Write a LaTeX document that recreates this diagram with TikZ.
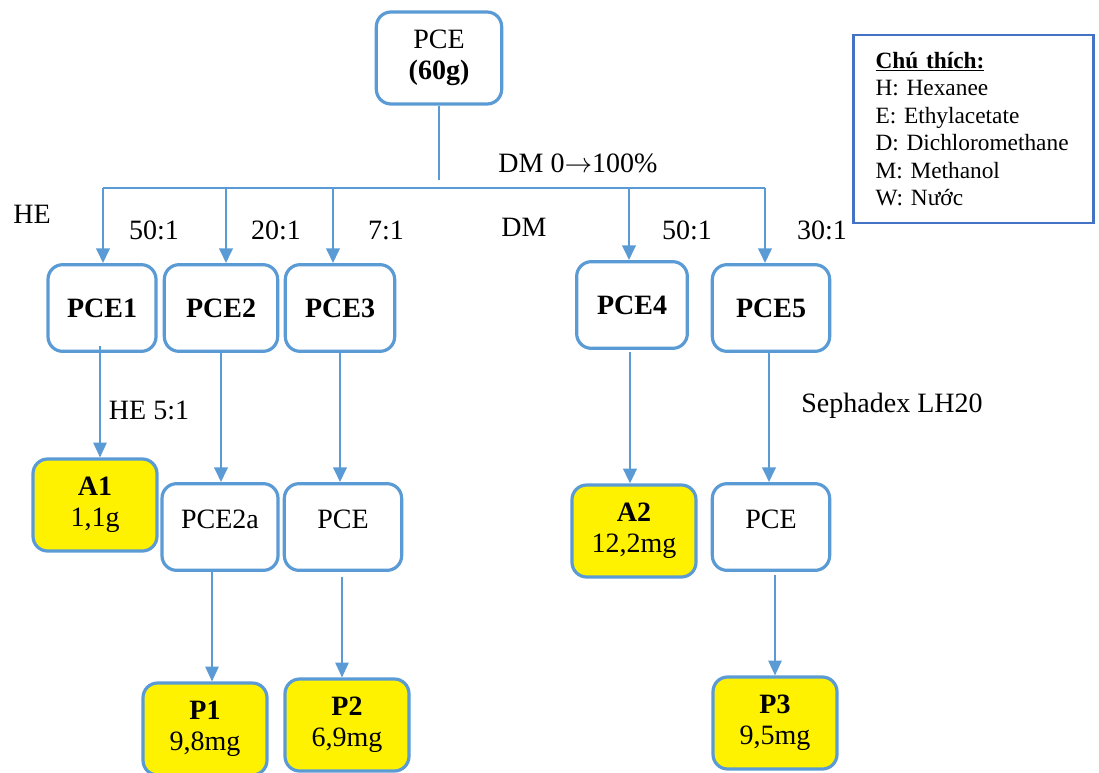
\documentclass[tikz,border=0pt]{standalone}
\usepackage{fontspec}
\setmainfont{Liberation Serif}
\usetikzlibrary{arrows.meta}
\definecolor{lineblue}{RGB}{91,155,213}
\definecolor{keyblue}{RGB}{68,114,196}
\frenchspacing

\begin{document}
\begin{tikzpicture}[x=0.75pt,y=-0.75pt,
  box/.style={draw=lineblue, line width=2.4pt, rounded corners=11pt, fill=white,
    align=center, inner sep=2pt, minimum width=85pt, minimum height=65pt,
    font=\fontsize{21}{23}\selectfont},
  res/.style={box, fill=yellow, minimum width=93pt, minimum height=69pt},
  lbl/.style={font=\fontsize{21}{23}\selectfont, inner sep=0pt},
  trunk/.style={draw=lineblue, line width=2.2pt},
  flow/.style={draw=lineblue, line width=2pt, -{Triangle[length=11pt,width=10pt]}},
  thinflow/.style={flow, line width=1pt}]

      \useasboundingbox (0,0) rectangle (1099,772);
      \clip (0,0) rectangle (1099,772);

      % Set up nodes
      \node[box, minimum width=94pt, minimum height=69pt] (pce) at (439,58) {PCE\\\textbf{(60g)}};

      \node[box, minimum width=81pt] (pce1) at (102,308) {\textbf{PCE1}};
      \node[box] (pce2) at (221,308) {\textbf{PCE2}};
      \node[box, minimum width=82pt] (pce3) at (340,308) {\textbf{PCE3}};
      \node[box, minimum width=83pt] (pce4) at (632,305) {\textbf{PCE4}};
      \node[box, minimum width=88pt] (pce5) at (771,308) {\textbf{PCE5}};

      \node[res] (a1) at (95,505) {\textbf{A1}\\1,1g};
      \node[box, minimum width=87pt, text depth=12pt] (pce2a) at (220,527) {PCE2a};
      \node[box, minimum width=88pt, text depth=12pt] (pce3b) at (343,527) {PCE};
      \node[res] (a2) at (634,531) {\textbf{A2}\\12,2mg};
      \node[box, minimum width=88pt, text depth=12pt] (pce5b) at (771,527) {PCE};

      \node[res] (p1) at (205,729) {\textbf{P1}\\9,8mg};
      \node[res] (p2) at (347,725) {\textbf{P2}\\6,9mg};
      \node[res] (p3) at (775,723) {\textbf{P3}\\9,5mg};

      % Legend
      \node[draw=keyblue, line width=1.6pt, minimum width=180pt, minimum height=141pt,
        text width=147pt, inner xsep=16.5pt, align=left,
        font=\fontsize{17.5}{20.6}\selectfont] (key) at (973.5,129)
        {\underline{\textbf{Chú thích:}}\\H: Hexanee\\E: Ethylacetate\\D: Dichloromethane\\M: Methanol\\W: Nước};

      % Labels
      \node[lbl] (grad) at (578,163) {DM 0$\rightarrow$100\%};
      \node[lbl] (he) at (32,214) {HE};
      \node[lbl] (r1) at (154,230) {50:1};
      \node[lbl] (r2) at (276,230) {20:1};
      \node[lbl] (r3) at (386,230) {7:1};
      \node[lbl] (dm) at (524,227) {DM};
      \node[lbl] (r4) at (687,230) {50:1};
      \node[lbl] (r5) at (822,230) {30:1};
      \node[lbl] (he51) at (149,410) {HE 5:1};
      \node[lbl] (seph) at (892,406) {Sephadex LH20};

      % Draw the split
      \coordinate (split) at (439,180);
      \coordinate (b1) at (103,188);
      \coordinate (b2) at (226,188);
      \coordinate (b3) at (333,188);
      \coordinate (b4) at (629,188);
      \coordinate (b5) at (765,188);
      \draw[trunk] (pce) -- (split);
      \draw[trunk] (b1) -- (b5);
      \draw[flow] (b1) -- (b1 |- pce1.north);
      \draw[flow] (b2) -- (b2 |- pce2.north);
      \draw[flow] (b3) -- (b3 |- pce3.north);
      \draw[flow] (b4) -- (b4 |- pce4.north);
      \draw[flow] (b5) -- (b5 |- pce5.north);

      % Draw the columns
      \coordinate (s1) at (100,346);
      \coordinate (s2) at (221,352);
      \coordinate (s3) at (340,352);
      \coordinate (s4) at (630,352);
      \coordinate (s5) at (769,353);
      \coordinate (t1) at (212,570);
      \coordinate (t2) at (342,577);
      \coordinate (t3) at (775,575);
      \draw[thinflow] (s1) -- (s1 |- a1.north);
      \draw[flow] (s2) -- (s2 |- pce2a.north);
      \draw[flow] (s3) -- (s3 |- pce3b.north);
      \draw[flow] (s4) -- (s4 |- a2.north);
      \draw[flow] (s5) -- (s5 |- pce5b.north);
      \draw[thinflow] (t1) -- (t1 |- p1.north);
      \draw[thinflow] (t2) -- (t2 |- p2.north);
      \draw[thinflow] (t3) -- (t3 |- p3.north);

\end{tikzpicture}
\end{document}
